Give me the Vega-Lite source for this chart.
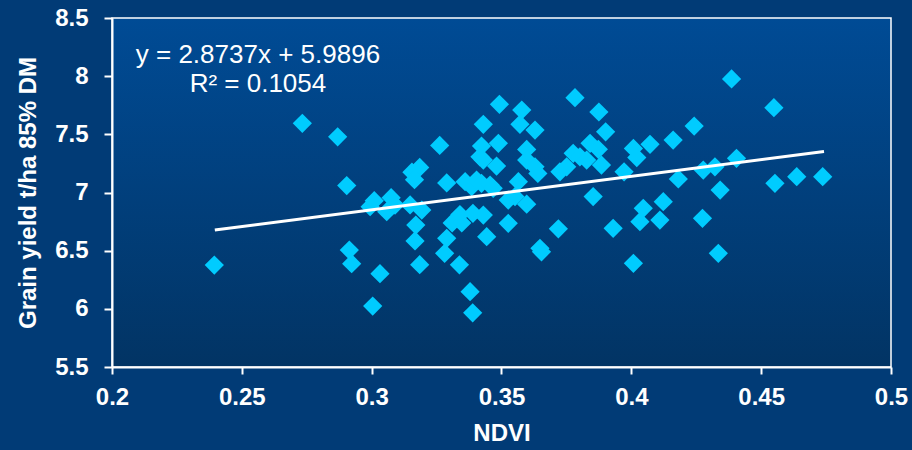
{
  "$schema": "https://vega.github.io/schema/vega-lite/v6.json",
  "width": 779,
  "height": 349,
  "autosize": "none",
  "padding": {"left": 112, "top": 18, "right": 21, "bottom": 83},
  "background": "#013b76",
  "config": {
    "font": "Liberation Sans",
    "view": {
      "fill": {
        "gradient": "linear",
        "x1": 0, "y1": 0, "x2": 0, "y2": 1,
        "stops": [
          {"offset": 0, "color": "#004b95"},
          {"offset": 1, "color": "#023464"}
        ]
      },
      "stroke": "#ffffff",
      "strokeWidth": 1.5
    },
    "axis": {
      "grid": false,
      "domainColor": "#ffffff",
      "domainWidth": 2,
      "tickColor": "#ffffff",
      "tickWidth": 2,
      "labelColor": "#ffffff",
      "labelFont": "Liberation Sans",
      "labelFontSize": 24,
      "labelFontWeight": "bold",
      "labelFlush": false,
      "labelOverlap": false,
      "labelBound": false,
      "titleColor": "#ffffff",
      "titleFont": "Liberation Sans",
      "titleFontSize": 24,
      "titleFontWeight": "bold"
    }
  },
  "layer": [
    {
      "data": {
        "values": [
          {"ndvi": 0.2394, "yield": 6.376}, {"ndvi": 0.2733, "yield": 7.595}, {"ndvi": 0.2869, "yield": 7.479},
          {"ndvi": 0.2904, "yield": 7.060}, {"ndvi": 0.2914, "yield": 6.505}, {"ndvi": 0.2923, "yield": 6.388},
          {"ndvi": 0.2994, "yield": 6.878}, {"ndvi": 0.3004, "yield": 6.024}, {"ndvi": 0.3010, "yield": 6.930},
          {"ndvi": 0.3058, "yield": 6.835}, {"ndvi": 0.3075, "yield": 6.955}, {"ndvi": 0.3090, "yield": 6.892},
          {"ndvi": 0.3032, "yield": 6.302}, {"ndvi": 0.3148, "yield": 6.893}, {"ndvi": 0.3193, "yield": 6.849},
          {"ndvi": 0.3170, "yield": 6.720}, {"ndvi": 0.3167, "yield": 6.584}, {"ndvi": 0.3185, "yield": 6.379},
          {"ndvi": 0.3155, "yield": 7.175}, {"ndvi": 0.3185, "yield": 7.215}, {"ndvi": 0.3165, "yield": 7.110},
          {"ndvi": 0.3262, "yield": 7.405}, {"ndvi": 0.3289, "yield": 7.082}, {"ndvi": 0.3289, "yield": 6.606},
          {"ndvi": 0.3281, "yield": 6.477}, {"ndvi": 0.3338, "yield": 6.378}, {"ndvi": 0.3310, "yield": 6.738},
          {"ndvi": 0.3347, "yield": 6.738}, {"ndvi": 0.3340, "yield": 6.810}, {"ndvi": 0.3390, "yield": 6.821},
          {"ndvi": 0.3430, "yield": 6.806}, {"ndvi": 0.3443, "yield": 6.620}, {"ndvi": 0.3379, "yield": 6.147},
          {"ndvi": 0.3389, "yield": 5.966}, {"ndvi": 0.3360, "yield": 7.093}, {"ndvi": 0.3385, "yield": 7.050},
          {"ndvi": 0.3404, "yield": 7.107}, {"ndvi": 0.3423, "yield": 7.079}, {"ndvi": 0.3456, "yield": 7.064},
          {"ndvi": 0.3468, "yield": 7.036}, {"ndvi": 0.3492, "yield": 7.758}, {"ndvi": 0.3430, "yield": 7.586},
          {"ndvi": 0.3423, "yield": 7.399}, {"ndvi": 0.3488, "yield": 7.423}, {"ndvi": 0.3417, "yield": 7.307},
          {"ndvi": 0.3430, "yield": 7.279}, {"ndvi": 0.3481, "yield": 7.227}, {"ndvi": 0.3565, "yield": 7.093},
          {"ndvi": 0.3526, "yield": 6.935}, {"ndvi": 0.3552, "yield": 6.964}, {"ndvi": 0.3597, "yield": 6.900},
          {"ndvi": 0.3526, "yield": 6.735}, {"ndvi": 0.3648, "yield": 6.520}, {"ndvi": 0.3654, "yield": 6.490},
          {"ndvi": 0.3578, "yield": 7.709}, {"ndvi": 0.3571, "yield": 7.586}, {"ndvi": 0.3629, "yield": 7.537},
          {"ndvi": 0.3597, "yield": 7.370}, {"ndvi": 0.3597, "yield": 7.279}, {"ndvi": 0.3629, "yield": 7.221},
          {"ndvi": 0.3640, "yield": 7.164}, {"ndvi": 0.3783, "yield": 7.815}, {"ndvi": 0.3875, "yield": 7.692},
          {"ndvi": 0.3901, "yield": 7.522}, {"ndvi": 0.3841, "yield": 7.423}, {"ndvi": 0.3873, "yield": 7.371},
          {"ndvi": 0.3776, "yield": 7.337}, {"ndvi": 0.3802, "yield": 7.307}, {"ndvi": 0.3751, "yield": 7.221},
          {"ndvi": 0.3725, "yield": 7.178}, {"ndvi": 0.3828, "yield": 7.279}, {"ndvi": 0.3885, "yield": 7.236},
          {"ndvi": 0.3853, "yield": 6.965}, {"ndvi": 0.3719, "yield": 6.688}, {"ndvi": 0.3930, "yield": 6.692},
          {"ndvi": 0.4008, "yield": 7.379}, {"ndvi": 0.4021, "yield": 7.300}, {"ndvi": 0.3972, "yield": 7.178},
          {"ndvi": 0.4072, "yield": 7.414}, {"ndvi": 0.4161, "yield": 7.451}, {"ndvi": 0.4242, "yield": 7.571},
          {"ndvi": 0.4046, "yield": 6.864}, {"ndvi": 0.4033, "yield": 6.749}, {"ndvi": 0.4110, "yield": 6.763},
          {"ndvi": 0.4123, "yield": 6.921}, {"ndvi": 0.4008, "yield": 6.391}, {"ndvi": 0.4181, "yield": 7.116},
          {"ndvi": 0.4277, "yield": 7.193}, {"ndvi": 0.4322, "yield": 7.221}, {"ndvi": 0.4274, "yield": 6.778},
          {"ndvi": 0.4342, "yield": 7.021}, {"ndvi": 0.4335, "yield": 6.477}, {"ndvi": 0.4386, "yield": 7.976},
          {"ndvi": 0.4405, "yield": 7.294}, {"ndvi": 0.4549, "yield": 7.729}, {"ndvi": 0.4553, "yield": 7.079},
          {"ndvi": 0.4637, "yield": 7.136}, {"ndvi": 0.4737, "yield": 7.136}
        ]
      },
      "mark": {"type": "point", "shape": "diamond", "filled": true, "size": 370, "color": "#00ccff", "opacity": 1, "strokeWidth": 0},
      "encoding": {
        "x": {
          "field": "ndvi", "type": "quantitative",
          "scale": {"domain": [0.2, 0.5], "nice": false, "zero": false},
          "axis": {
            "title": "NDVI",
            "values": [0.2, 0.25, 0.3, 0.35, 0.4, 0.45, 0.5],
            "format": "~g",
            "tickSize": 7,
            "labelPadding": 11,
            "titlePadding": 12
          }
        },
        "y": {
          "field": "yield", "type": "quantitative",
          "scale": {"domain": [5.5, 8.5], "nice": false, "zero": false},
          "axis": {
            "title": "Grain yield t/ha 85% DM",
            "values": [5.5, 6, 6.5, 7, 7.5, 8, 8.5],
            "format": "~g",
            "tickSize": 8,
            "labelPadding": 16,
            "titlePadding": 14
          }
        }
      }
    },
    {
      "data": {
        "values": [
          {"ndvi": 0.2396, "yield": 6.6781},
          {"ndvi": 0.4742, "yield": 7.3523}
        ]
      },
      "mark": {"type": "line", "color": "#ffffff", "strokeWidth": 3},
      "encoding": {
        "x": {"field": "ndvi", "type": "quantitative"},
        "y": {"field": "yield", "type": "quantitative"}
      }
    },
    {
      "data": {
        "values": [
          {"ndvi": 0.2562, "yield": 8.110, "label": "y = 2.8737x + 5.9896"},
          {"ndvi": 0.2562, "yield": 7.866, "label": "R² = 0.1054"}
        ]
      },
      "mark": {"type": "text", "align": "center", "baseline": "alphabetic", "font": "Liberation Sans", "fontSize": 26, "color": "#ffffff"},
      "encoding": {
        "x": {"field": "ndvi", "type": "quantitative"},
        "y": {"field": "yield", "type": "quantitative"},
        "text": {"field": "label"}
      }
    }
  ]
}
